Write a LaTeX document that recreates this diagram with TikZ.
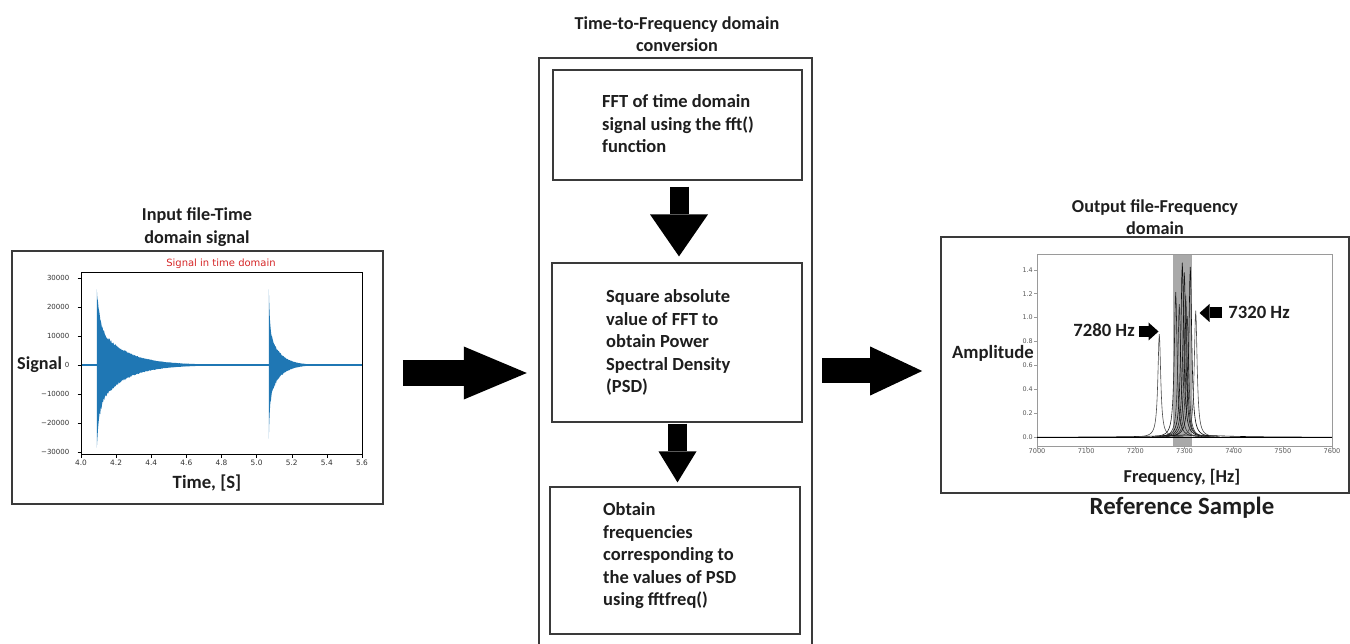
\documentclass[tikz,border=0pt]{standalone}
\usepackage{fontspec}
\setmainfont{Carlito}
\newfontfamily\tickfont{DejaVu Sans}
\usetikzlibrary{arrows.meta,calc}

\definecolor{sigblue}{HTML}{1F77B4}
\definecolor{mplred}{HTML}{D62728}
\definecolor{ink}{HTML}{1E1E1E}
\definecolor{frame}{HTML}{3A3A3A}
\definecolor{tickgray}{HTML}{333333}
\definecolor{band}{HTML}{A9A9A9}
\definecolor{spine}{HTML}{9A9A9A}

% decaying envelopes of the two strikes (pixel units), with a little jitter
\pgfmathdeclarefunction{envA}{1}{%
  \pgfmathparse{(40.6*exp(max(-(#1-96.8)/26.3,-20))+37.7*exp(max(-(#1-96.8)/2.63,-20)))*(0.93+0.12*rnd)}}
\pgfmathdeclarefunction{envB}{1}{%
  \pgfmathparse{(34.8*exp(max(-(#1-268.8)/10.5,-20))+40.6*exp(max(-(#1-268.8)/1.05,-20)))*(0.93+0.12*rnd)}}

\begin{document}
\begin{tikzpicture}[x=1pt,y=-1pt,
  panel/.style={draw=frame, line width=1.6pt, inner sep=0pt},
  stepbox/.style={draw=frame, line width=1.2pt, inner sep=0pt},
  heading/.style={font=\bfseries\fontsize{18.2}{22.5}\selectfont, text=ink, align=center, inner sep=0pt},
  boxtext/.style={font=\bfseries\fontsize{18.5}{22.5}\selectfont, text=ink, align=left, inner sep=0pt, anchor=north west},
  axlabel/.style={font=\bfseries\fontsize{18.7}{20}\selectfont, text=ink, inner sep=0pt},
  ytick/.style={font=\tickfont\fontsize{7}{8}\selectfont, text=tickgray, anchor=east, inner sep=0pt},
  xtick/.style={font=\tickfont\fontsize{7.4}{8}\selectfont, text=tickgray, anchor=north, inner sep=0pt},
  rytick/.style={font=\tickfont\fontsize{6.4}{7}\selectfont, text=black!65, anchor=east, inner sep=0pt},
  rxtick/.style={font=\tickfont\fontsize{6.6}{7}\selectfont, text=black!65, anchor=north, inner sep=0pt},
  bigarrowA/.style={line width=26pt, -{Triangle[length=63pt,width=53pt,line width=0pt]}},
  bigarrowB/.style={line width=25pt, -{Triangle[length=52pt,width=49pt,line width=0pt]}},
  downarrowA/.style={line width=19pt, -{Triangle[length=42pt,width=58pt,line width=0pt]}},
  downarrowB/.style={line width=19pt, -{Triangle[length=31pt,width=38pt,line width=0pt]}},
  hzarrow/.style={line width=11pt, -{Triangle[length=10pt,width=18pt,line width=0pt]}},
]
\fill[white] (0,0) rectangle (1350,644);
\useasboundingbox (0,0) rectangle (1350,644);

% ---------------- input panel ----------------
\node[heading] (intitle) at (197,227) {Input file-Time\\domain signal};
\node[panel, minimum width=371pt, minimum height=253pt] (inbox) at (197.5,377.5) {};

% signal trace
\draw[sigblue, line width=1.2pt] (81,365) -- (362,365);
\fill[sigblue] (96.8,365)
  -- plot[domain=96.8:268.8, samples=300] (\x,{365-envA(\x)})
  -- plot[domain=268.8:96.8, samples=300] (\x,{365+1.035*envA(\x)}) -- cycle;
\fill[sigblue] (268.8,365)
  -- plot[domain=268.8:362, samples=180] (\x,{365-envB(\x)})
  -- plot[domain=362:268.8, samples=180] (\x,{365+envB(\x)}) -- cycle;

\draw[black, line width=0.6pt] (81,272) rectangle (362,454);
\foreach \v/\lab in {3/30000,2/20000,1/10000,0/0,-1/−10000,-2/−20000,-3/−30000}{
  \draw[black, line width=0.5pt] (77.5,365-\v*29) -- (81,365-\v*29);
  \node[ytick] at (69.5,365-\v*29) {\lab};
}
\foreach \i/\lab in {0/4.0,1/4.2,2/4.4,3/4.6,4/4.8,5/5.0,6/5.2,7/5.4,8/5.6}{
  \draw[black, line width=0.5pt] (81+\i*35.125,454) -- (81+\i*35.125,457.5);
  \node[xtick] at (81+\i*35.125,459.5) {\lab};
}
\node[font=\tickfont\fontsize{10}{11}\selectfont, text=mplred, inner sep=0pt] (sigtitle) at (221,263.5) {Signal in time domain};
\node[axlabel, font=\bfseries\fontsize{18.2}{20}\selectfont, anchor=west] (ylabA) at (17,365) {Signal};
\node[axlabel] (xlabA) at (207,483) {Time, [S]};

% ---------------- conversion panel ----------------
\node[heading] (convtitle) at (677,34) {Time-to-Frequency domain\\conversion};
\node[minimum width=273pt, minimum height=586pt, inner sep=0pt] (conv) at (675.5,351) {};
\draw[frame, line width=1.6pt] (conv.south west) -- (conv.north west) -- (conv.north east) -- (conv.south east);

\node[stepbox, minimum width=249pt, minimum height=110pt] (fft) at (677.5,125) {};
\node[boxtext] (ffttext) at (602,94.4) {FFT of time domain\\signal using the fft()\\function};

\node[stepbox, minimum width=250pt, minimum height=159pt] (psd) at (677,342.5) {};
\node[boxtext] (psdtext) at (606,289.4) {Square absolute\\value of FFT to\\obtain Power\\Spectral Density\\(PSD)};

\node[stepbox, minimum width=250pt, minimum height=147pt] (freq) at (675,560.5) {};
\node[boxtext] (freqtext) at (603,502.4) {Obtain\\frequencies\\corresponding to\\the values of PSD\\using fftfreq()};

\draw[downarrowA] ($(fft.south)+(1.5,6)$) -- ($(psd.north)+(2,-6)$);
\draw[downarrowB] ($(psd.south)+(0.5,1)$) -- ($(freq.north)+(2.5,-4)$);

% ---------------- output panel ----------------
\node[heading] (outtitle) at (1155,217) {Output file-Frequency\\domain};
\node[panel, minimum width=408pt, minimum height=256pt] (outbox) at (1145,365) {};

\fill[band] (1173,254) rectangle (1191.7,446);
\draw[spine, line width=0.6pt] (1037,254) rectangle (1332,446);
\foreach \i/\lab in {0/0.0,1/0.2,2/0.4,3/0.6,4/0.8,5/1.0,6/1.2,7/1.4}{
  \draw[spine, line width=0.5pt] (1034,437.3-\i*23.93) -- (1037,437.3-\i*23.93);
  \node[rytick] at (1033,437.3-\i*23.93) {\lab};
}
\foreach \i/\lab in {0/7000,1/7100,2/7200,3/7300,4/7400,5/7500,6/7600}{
  \draw[spine, line width=0.5pt] (1037+\i*49.17,446) -- (1037+\i*49.17,449);
  \node[rxtick] at (1037+\i*49.17,448.5) {\lab};
}

% spectral peaks
\draw[black, line width=0.6pt] plot[domain=1037:1332, samples=200] (\x,{437.3-2.2/(1+((\x-1190)/40)^2)});
\foreach \c/\h/\g in {1159.3/103.2/70, 1175.7/145.2/85, 1179.3/133.2/80, 1182.3/174.6/95,
                      1184.3/165/90, 1185.7/141.6/85, 1187.3/121.2/80, 1190.3/170.4/95, 1195.7/126.6/70}{
  \pgfmathsetmacro\lo{\c-24}
  \pgfmathsetmacro\hi{\c+24}
  \draw[black!\g, line width=0.6pt] plot[domain=\lo:\hi, samples=97] (\x,{437.3-\h/(1+((\x-\c)/1.7)^2)});
}
\draw[black, line width=1pt] (1037,437.3) -- (1332,437.3);

\node[axlabel] (l7280) at (1104,330) {7280 Hz};
\node[axlabel] (l7320) at (1259,312) {7320 Hz};
\coordinate (pk7280) at (1158.5,331.5);
\coordinate (pk7320) at (1199.5,313);
\draw[hzarrow] ($(l7280.east)+(4,1.5)$) -- (pk7280);
\draw[hzarrow] ($(l7320.west)+(-6,1)$) -- (pk7320);

\node[axlabel] (ylabB) at (993,353) {Amplitude};
\node[axlabel, font=\bfseries\fontsize{18.2}{20}\selectfont] (xlabB) at (1182,477) {Frequency, [Hz]};
\node[font=\bfseries\fontsize{24.8}{28}\selectfont, text=ink, inner sep=0pt] (refsample) at (1182,508) {Reference Sample};

% ---------------- flow arrows ----------------
\draw[bigarrowA] ($(inbox.east)+(19,-4.5)$) -- ($(conv.west)+(-12,22)$);
\draw[bigarrowB] ($(conv.east)+(10,20)$) -- ($(outbox.west)+(-18,6)$);
\end{tikzpicture}
\end{document}
